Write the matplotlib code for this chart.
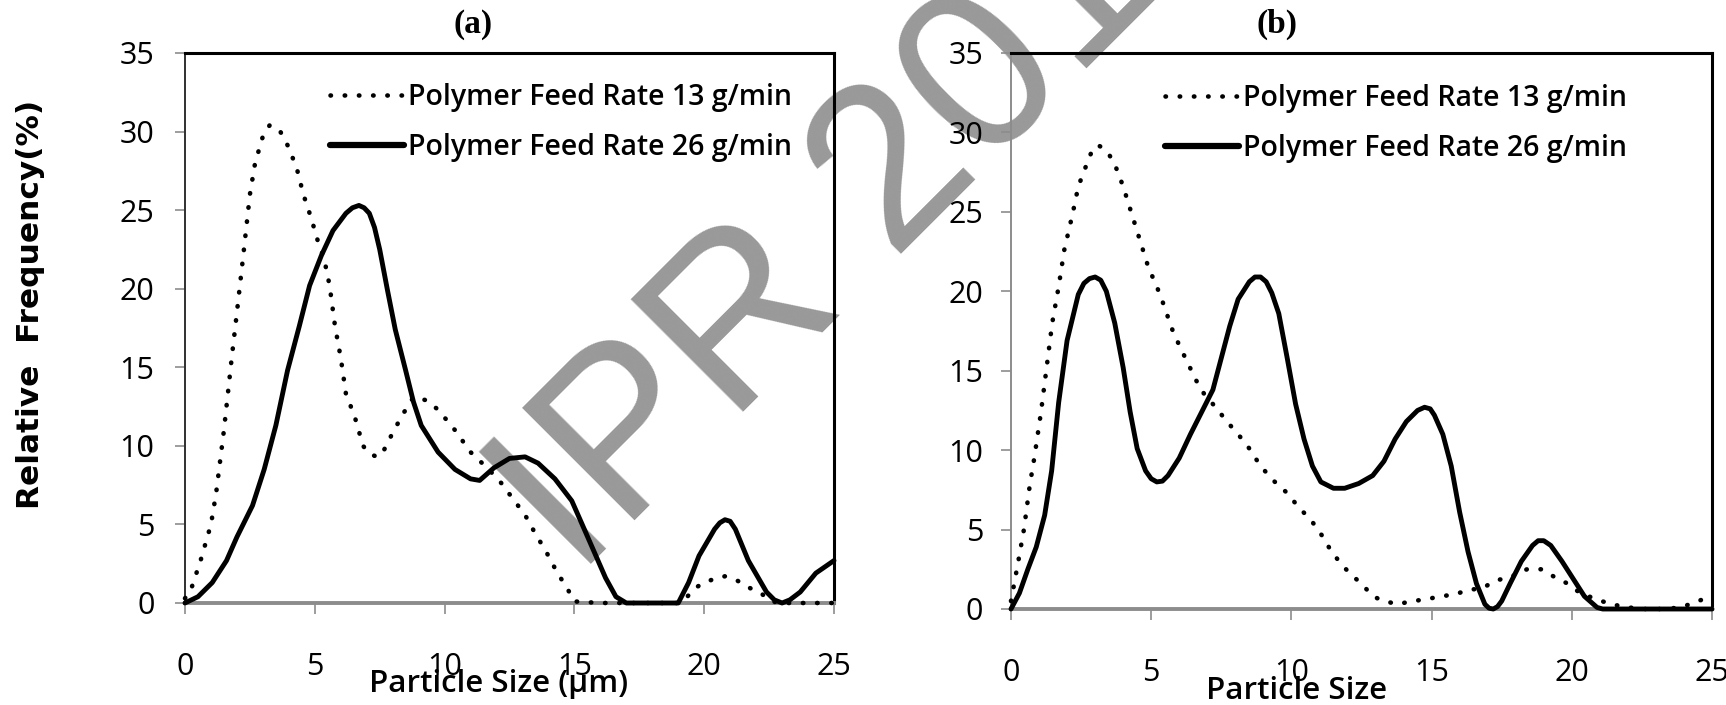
import matplotlib
matplotlib.use('Agg')
import matplotlib.pyplot as plt

# panel (a): particle size (um) vs relative frequency (%)
x_a13 = [0, 0.2, 0.6, 1.0, 1.2, 1.5, 1.8, 2.0, 2.25, 2.5, 2.7, 3.0, 3.26, 3.64, 3.96, 4.3, 4.56, 4.86,
         5.14, 5.36, 5.57, 5.78, 6.0, 6.2, 6.53, 6.86, 7.1, 7.4, 7.6, 7.8, 8.35, 8.8, 9.3, 9.75, 10.4, 11.0,
         11.7, 12.2, 12.6, 13.1, 13.5, 13.9, 14.35, 14.7, 15.0, 16, 17, 18, 19, 19.3, 19.6, 20.0,
         20.5, 20.8, 21.3, 21.7, 22.2, 22.6, 23, 24, 25]
y_a13 = [0.3, 0.7, 2.7, 5.0, 7.0, 11.0, 15.6, 18.5, 22.2, 26.0, 28.0, 29.7, 30.4, 30.1, 29.1, 27.7, 26.0, 24.5,
         22.9, 21.9, 20.2, 17.6, 15.6, 13.3, 11.9, 10.0, 9.5, 9.3, 9.5, 10.2, 11.9, 13.1, 12.9, 12.3, 11.0, 9.6,
         8.5, 7.6, 6.7, 5.6, 4.4, 3.3, 1.9, 1.0, 0.1, 0, 0, 0, 0, 0.3, 0.9, 1.3,
         1.6, 1.7, 1.4, 1.0, 0.6, 0.1, 0, 0, 0]

x_a26 = [0, 0.5, 1.05, 1.6, 2.0, 2.6, 3.05, 3.5, 3.95, 4.4, 4.8, 5.25, 5.7, 6.2, 6.45, 6.7, 6.9, 7.1,
         7.3, 7.5, 7.8, 8.1, 8.5, 8.8, 9.1, 9.75, 10.4, 11.0, 11.35, 11.9, 12.5, 13.1, 13.6, 14.25,
         14.9, 15.3, 15.75, 16.2, 16.6, 17.0, 18, 19.0, 19.4, 19.8, 20.4, 20.6, 20.8, 21.0, 21.2,
         21.7, 22.4, 22.7, 23.0, 23.3, 23.7, 24.3, 25]
y_a26 = [0, 0.4, 1.3, 2.7, 4.2, 6.2, 8.5, 11.3, 14.8, 17.6, 20.2, 22.1, 23.7, 24.8, 25.15, 25.3, 25.15, 24.8,
         23.9, 22.5, 19.9, 17.4, 14.8, 12.8, 11.3, 9.6, 8.5, 7.9, 7.8, 8.6, 9.2, 9.3, 8.9, 7.9,
         6.5, 5.0, 3.3, 1.6, 0.4, 0, 0, 0, 1.3, 3.0, 4.7, 5.1, 5.3, 5.2, 4.7,
         2.7, 0.7, 0.2, 0, 0.2, 0.7, 1.9, 2.7]

# panel (b)
x_b13 = [0, 0.26, 0.46, 0.67, 0.83, 1.07, 1.27, 1.47, 1.7, 1.9, 2.2, 2.4, 2.7, 2.9, 3.1, 3.3, 3.5, 3.7,
         4.0, 4.3, 4.6, 4.9, 5.2, 5.5, 5.7, 6.0, 6.3, 6.6, 6.9, 7.3, 7.7, 8.1, 8.5, 8.9, 9.35, 9.85,
         10.26, 10.7, 11.1, 11.4, 11.7, 12.1, 12.5, 12.9, 13.3, 13.8, 14.3, 14.8, 15.3, 15.8,
         16.3, 16.8, 17.3, 17.8, 18.4, 18.9, 19.4, 19.85, 20.3, 20.9, 21.4, 22.0, 22.6, 23.3,
         23.9, 24.5, 25]
y_b13 = [0.5, 3.0, 5.0, 7.8, 9.5, 12.4, 15.2, 18.0, 20.3, 22.6, 24.9, 26.6, 28.0, 28.9, 29.2, 29.0, 28.6, 28.0,
         26.6, 24.9, 23.2, 21.5, 20.3, 18.9, 17.8, 16.6, 15.5, 14.4, 13.5, 12.7, 11.8, 11.0, 10.1, 9.0, 8.1, 7.3,
         6.4, 5.6, 4.6, 3.7, 3.0, 2.2, 1.6, 0.8, 0.5, 0.3, 0.5, 0.6, 0.8, 0.9,
         1.2, 1.3, 1.8, 2.0, 2.5, 2.5, 2.0, 1.6, 1.0, 0.6, 0.3, 0.1, 0, 0,
         0.1, 0.5, 0.8]

x_b26 = [0, 0.3, 0.6, 0.9, 1.2, 1.45, 1.7, 2.0, 2.4, 2.6, 2.8, 3.0, 3.2, 3.4, 3.7, 4.0, 4.25, 4.5, 4.8,
         5.0, 5.2, 5.4, 5.6, 6.0, 6.4, 6.8, 7.2, 7.5, 7.8, 8.1, 8.5, 8.7, 8.9, 9.1, 9.3, 9.55, 9.85,
         10.15, 10.45, 10.75, 11.05, 11.5, 11.9, 12.4, 12.9, 13.3, 13.7, 14.1, 14.5, 14.75, 14.95,
         15.1, 15.4, 15.7, 16.0, 16.3, 16.6, 16.9, 17.05, 17.2, 17.35, 17.5, 17.8, 18.2, 18.6, 18.8,
         19.0, 19.25, 19.65, 20.05, 20.45, 20.9, 21.1, 22, 23, 24, 25]
y_b26 = [0, 1.0, 2.5, 3.9, 5.9, 8.7, 13.0, 16.9, 19.8, 20.5, 20.8, 20.9, 20.7, 20.0, 18.0, 15.2, 12.4, 10.1, 8.7,
         8.2, 8.0, 8.05, 8.4, 9.5, 11.0, 12.4, 13.8, 15.8, 17.8, 19.5, 20.6, 20.9, 20.9, 20.6, 19.9, 18.6, 15.8,
         12.9, 10.7, 9.0, 8.0, 7.6, 7.6, 7.9, 8.4, 9.3, 10.7, 11.8, 12.5, 12.7, 12.6,
         12.2, 11.0, 9.0, 6.1, 3.6, 1.6, 0.3, 0.05, 0, 0.15, 0.5, 1.6, 3.0, 4.0, 4.3,
         4.3, 4.0, 3.0, 1.9, 0.8, 0.1, 0, 0, 0, 0, 0]

labels = ['Polymer Feed Rate 13 g/min', 'Polymer Feed Rate 26 g/min']
xticks = [0, 5, 10, 15, 20, 25]
yticks = [0, 5, 10, 15, 20, 25, 30, 35]

tick_font = ['Open Sans', 'DejaVu Sans']
dots = (0, (0.1, 3.0))

fig = plt.figure(figsize=(17.26, 7.05), dpi=100)

# watermark, behind everything
fig.text(0.3343, 0.1787, 'IPR 2017', rotation=45, rotation_mode='anchor',
         ha='left', va='baseline', fontsize=166, color='#999999',
         family=['Liberation Sans', 'DejaVu Sans'], zorder=-5)


def panel(rect, xd, yd, xs, ys, ypad, leg_anchor, left_color):
    ax = fig.add_axes(rect)
    ax.patch.set_alpha(0)
    ax.plot(xd, yd, color='black', lw=3.3, linestyle=dots, dash_capstyle='round',
            clip_on=False, zorder=3, label=labels[0])
    ax.plot(xs, ys, color='black', lw=3.5, solid_joinstyle='round', solid_capstyle='round',
            clip_on=False, zorder=3, label=labels[1])
    ax.set_xlim(0, 25)
    ax.set_ylim(0, 35)
    ax.set_xticks(xticks)
    ax.set_yticks(yticks)
    for s in ['top', 'right']:
        ax.spines[s].set_color('black')
        ax.spines[s].set_linewidth(2.2)
    ax.spines['left'].set_color(left_color)
    ax.spines['left'].set_linewidth(1.4)
    ax.spines['bottom'].set_color('#8c8c8c')
    ax.spines['bottom'].set_linewidth(2.8)
    ax.tick_params(axis='x', direction='out', length=8, width=1.2, color='#8c8c8c', pad=27)
    ax.tick_params(axis='y', direction='out', length=7, width=1.2, color='#8c8c8c', pad=ypad)
    for t in ax.get_xticklabels() + ax.get_yticklabels():
        t.set_family(tick_font)
        t.set_fontsize(22)
    h, l = ax.get_legend_handles_labels()
    leg = ax.legend(h, l, loc='upper left', bbox_to_anchor=leg_anchor,
                    bbox_transform=fig.transFigure, frameon=False, borderpad=0,
                    borderaxespad=0, handlelength=2.6, handletextpad=0.15, labelspacing=0.75,
                    prop={'family': ['Open Sans', 'DejaVu Sans'], 'weight': 'semibold', 'size': 20.5})
    leg.get_lines()[1].set_linewidth(4.5)
    return ax


ax_a = panel([185 / 1726, 1 - 603 / 705, 649 / 1726, 550 / 705],
             x_a13, y_a13, x_a26, y_a26, 15, (330 / 1726, 1 - 83 / 705), '#303030')
ax_b = panel([1011 / 1726, 1 - 609 / 705, 701 / 1726, 556 / 705],
             x_b13, y_b13, x_b26, y_b26, 13, (1165 / 1726, 1 - 84 / 705), '#8c8c8c')

title_font = {'family': ['Liberation Serif', 'DejaVu Serif'], 'weight': 'bold', 'size': 24}
fig.text(473 / 1726, 1 - 24 / 705, '(a)', ha='center', va='center', **title_font)
fig.text(1277 / 1726, 1 - 24 / 705, '(b)', ha='center', va='center', **title_font)

xlab_font = {'family': tick_font, 'weight': 'semibold', 'size': 22.5}
fig.text(499 / 1726, 1 - 684 / 705, 'Particle Size (µm)', ha='center', va='center', **xlab_font)
fig.text(1297 / 1726, 1 - 691 / 705, 'Particle Size', ha='center', va='center', **xlab_font)

fig.text(31 / 1726, 1 - 304 / 705, 'Relative  Frequency(%)', rotation=90, ha='center', va='center',
         family='DejaVu Sans', weight='bold', size=22.5)

fig.savefig('out.png', dpi=100)
